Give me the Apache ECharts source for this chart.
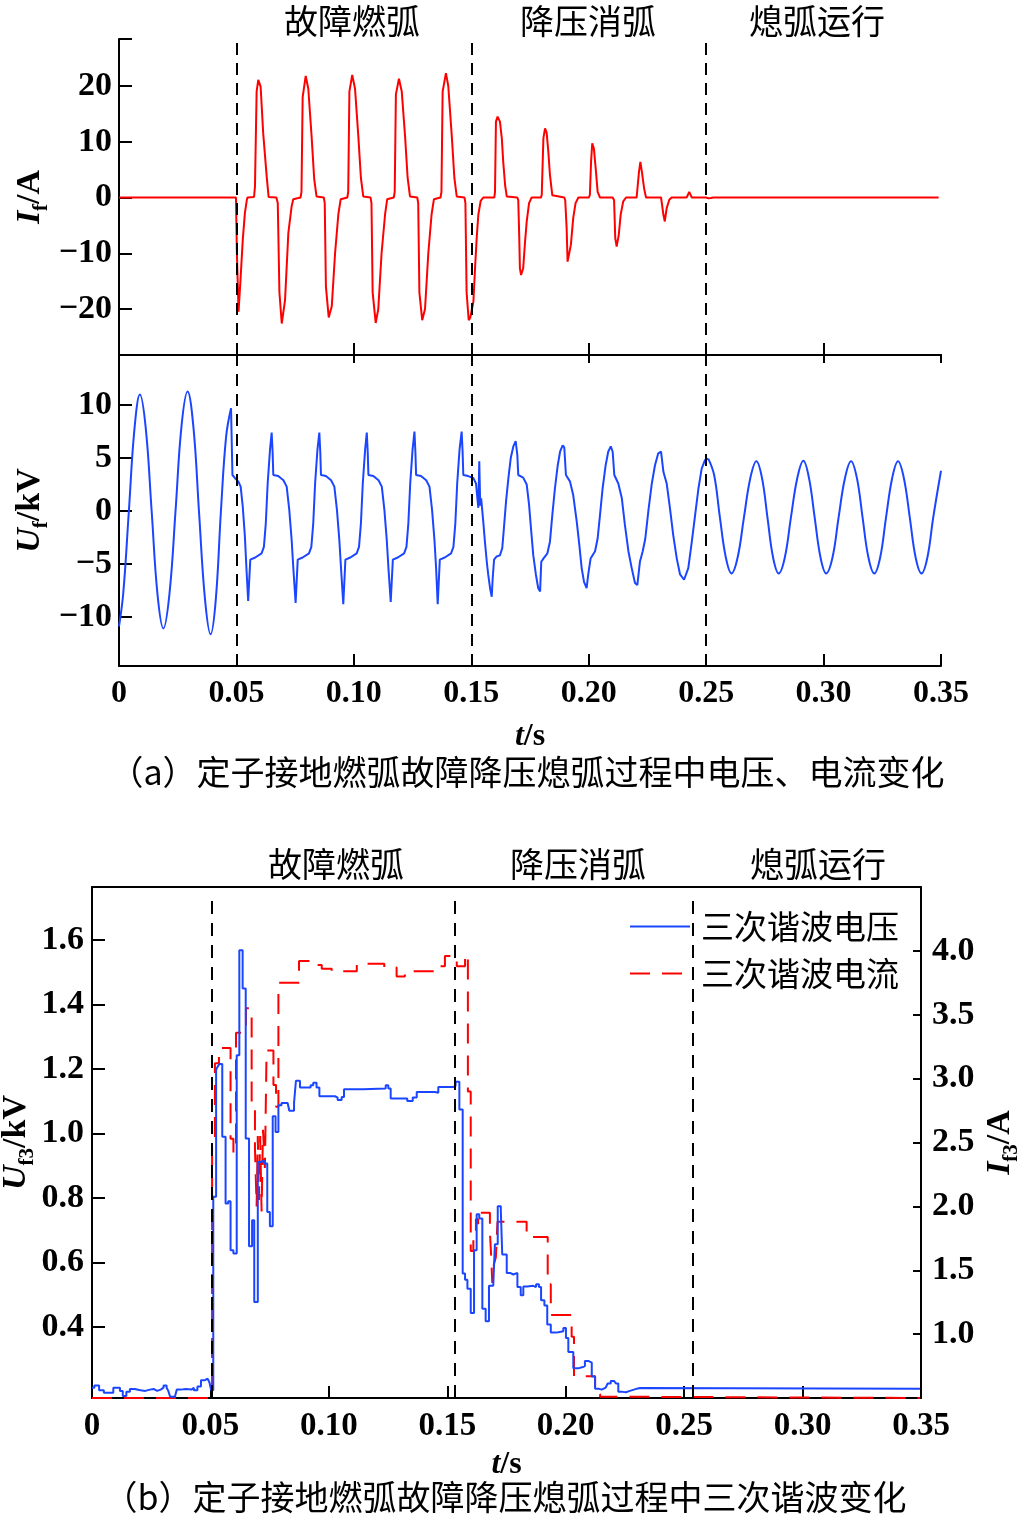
<!DOCTYPE html>
<html><head><meta charset="utf-8">
<script src="https://cdn.jsdelivr.net/npm/echarts@6/dist/echarts.min.js"></script>
<style>html,body{margin:0;padding:0;background:#fff}#c{width:1020px;height:1515px}</style>
</head><body><div id="c"></div>
<script>
// ---------------- data ----------------
const phaseNames = ['故障燃弧', '降压消弧', '熄弧运行'];
const phaseBoundsA = [0.05, 0.15, 0.25];
const phaseBoundsB = [0.0507, 0.1533, 0.2537];
const tickIf = [-20, -10, 0, 10, 20];
const tickUf = [-10, -5, 0, 5, 10];
const tickU3 = [0.4, 0.6, 0.8, 1.0, 1.2, 1.4, 1.6];
const tickI3 = [1.0, 1.5, 2.0, 2.5, 3.0, 3.5, 4.0];
const tickT = [0, 0.05, 0.10, 0.15, 0.20, 0.25, 0.30];

// fault current I_f (A)
const currentIf = [
[0,0],[0.0498,0],
[0.0502,-10],[0.0509,-20.5],[0.0512,-20.7],[0.0517,-15],[0.0527,-7.6],[0.0536,-2.8],[0.0544,-0.5],[0.0547,0],[0.0575,0.1],
[0.0579,2],[0.0586,19],[0.0593,21.1],[0.0603,19.9],[0.0614,11.5],[0.0629,3.7],[0.0637,0.1],[0.0670,0],
[0.0676,-1],[0.0683,-17],[0.0693,-22.6],[0.0707,-18.4],[0.0721,-6.4],[0.0735,-1.6],[0.0742,-0.3],[0.0773,0],
[0.0777,1],[0.0782,18],[0.0795,21.8],[0.0806,19.5],[0.0820,11],[0.0831,3.4],[0.0841,0.2],[0.0872,0],
[0.0876,-1],[0.0881,-16],[0.0893,-21.5],[0.0906,-19.5],[0.0920,-10],[0.0934,-3],[0.0944,-0.3],[0.0972,0],
[0.0976,1],[0.0981,19],[0.0993,22],[0.1005,19.5],[0.1019,11],[0.1030,3.5],[0.1040,0.2],[0.1071,0],
[0.1075,-1],[0.1080,-17],[0.1093,-22.5],[0.1104,-20],[0.1118,-10],[0.1133,-3],[0.1142,-0.3],[0.1170,0],
[0.1174,1],[0.1179,18.5],[0.1192,21.3],[0.1204,19],[0.1218,11],[0.1229,3.5],[0.1239,0.2],[0.1270,0],
[0.1274,-1],[0.1279,-17],[0.1291,-22],[0.1303,-20],[0.1317,-10],[0.1331,-3],[0.1341,-0.3],[0.1369,0],
[0.1373,1],[0.1378,19],[0.1392,22.3],[0.1402,20],[0.1417,11],[0.1428,3.5],[0.1438,0.2],[0.1471,0],
[0.1475,-1],[0.1480,-17],[0.1489,-22],[0.1496,-21.5],[0.1509,-18.7],[0.1516,-12.7],[0.1523,-7.3],[0.1530,-3.1],[0.1540,-0.6],[0.1551,0],[0.1598,0],
[0.1601,1],[0.1605,13.6],[0.1612,14.5],[0.1622,13.6],[0.1630,10.6],[0.1636,6.4],[0.1644,2.2],[0.1651,0.2],[0.1696,0],
[0.1700,-0.5],[0.1704,-6.7],[0.1707,-12.7],[0.1712,-13.9],[0.1721,-12.7],[0.1729,-7.9],[0.1736,-4.3],[0.1746,-1],[0.1757,0],[0.1797,0],
[0.1800,0.5],[0.1807,10.6],[0.1814,12.4],[0.1821,11.6],[0.1828,8.2],[0.1835,4.0],[0.1845,0.4],[0.1896,0],
[0.1900,-0.5],[0.1906,-5.5],[0.1910,-11.5],[0.1916,-11.5],[0.1924,-8.5],[0.1934,-3.7],[0.1944,-1],[0.1956,0],[0.2001,0],
[0.2005,0.5],[0.2010,6.4],[0.2015,9.7],[0.2022,8.8],[0.2031,4.6],[0.2038,1.0],[0.2048,0],[0.2102,0],
[0.2108,-0.5],[0.2113,-7.3],[0.2119,-8.8],[0.2128,-6.7],[0.2136,-3.1],[0.2147,-0.7],[0.2159,0],[0.2204,0],
[0.2208,0.3],[0.2214,4.6],[0.2220,6.4],[0.2227,4.4],[0.2236,1.6],[0.2244,0],[0.2308,0],
[0.2312,-0.3],[0.2318,-3.1],[0.2324,-4.3],[0.2332,-1.9],[0.2343,-0.4],[0.2353,0],[0.2417,0],
[0.2428,1.0],[0.2439,0],[0.2500,0],[0.2510,-0.15],[0.2520,-0.1],[0.2530,0],[0.3490,0]
];

// fault voltage U_f (kV): pre-fault sine, arcing part, post-extinction sine
const voltageSine1 = [
[0,-10.9],[0.0018,-7.8],[0.0042,0],[0.0066,7.8],[0.0089,11.0],[0.0114,7.8],[0.0139,0],[0.0164,-7.9],
[0.0189,-11.1],[0.0215,-7.8],[0.0241,0.1],[0.0266,8.0],[0.0292,11.3],[0.0317,7.9],[0.0341,-0.2],[0.0366,-8.3],
[0.0390,-11.65],[0.0412,-8.4],[0.0434,0],[0.0456,7.0],[0.0477,9.7]
];
const voltageArc = [
[0.0477,9.7],[0.0483,3.4],[0.0494,3.1],[0.0508,2.8],[0.0518,2.3],[0.0527,0.4],[0.0536,-2.4],[0.0543,-5.6],
[0.0550,-8.5],[0.0559,-4.6],[0.0580,-4.4],[0.0607,-4.0],[0.0617,-3.4],[0.0625,-1.2],[0.0633,2.6],[0.0643,5.8],[0.0650,7.4],[0.0654,5.6],[0.0657,3.4],[0.0678,3.3],[0.0700,2.9],[0.0714,2.3],[0.0725,0.1],[0.0735,-2.7],[0.0742,-5.3],
[0.0752,-8.7],[0.0761,-4.6],[0.0782,-4.4],[0.0809,-4.0],[0.0819,-3.4],[0.0827,-1.2],[0.0835,2.6],[0.0845,5.8],[0.0853,7.4],[0.0857,5.6],[0.0860,3.4],[0.0881,3.3],[0.0903,2.9],[0.0917,2.3],[0.0928,0.1],[0.0938,-2.7],[0.0945,-5.3],
[0.0955,-8.8],[0.0964,-4.6],[0.0985,-4.4],[0.1012,-4.0],[0.1022,-3.4],[0.1030,-1.2],[0.1038,2.6],[0.1048,5.8],[0.1055,7.4],[0.1059,5.6],[0.1062,3.4],[0.1083,3.3],[0.1105,2.9],[0.1119,2.3],[0.1130,0.1],[0.1140,-2.7],[0.1147,-5.3],
[0.1157,-8.6],[0.1166,-4.6],[0.1187,-4.4],[0.1214,-4.0],[0.1224,-3.4],[0.1232,-1.2],[0.1240,2.6],[0.1250,5.8],[0.1258,7.5],[0.1262,5.6],[0.1265,3.4],[0.1286,3.3],[0.1308,2.9],[0.1322,2.3],[0.1333,0.1],[0.1343,-2.7],[0.1350,-5.3],
[0.1357,-8.8],[0.1366,-4.6],[0.1387,-4.4],[0.1414,-4.0],[0.1424,-3.4],[0.1432,-1.2],[0.1440,2.6],[0.1450,5.8],[0.1459,7.5],[0.1463,5.6],[0.1466,3.4],[0.1487,3.3],[0.1509,3.1],[0.1520,2.6],[0.1530,0.3],[0.1534,4.7],[0.1538,0.5],[0.1542,1.2],[0.1551,-1.0],[0.1558,-2.9],[0.1566,-4.8],[0.1572,-6.0],[0.1580,-7.3],[0.1587,-8.1],[0.1591,-6.4],[0.1597,-4.6],
[0.1608,-4.3],[0.1622,-4.2],[0.1632,-3.5],[0.1639,-1.6],[0.1648,0.9],[0.1658,3.1],[0.1668,5.0],[0.1679,6.1],[0.1689,6.6],[0.1696,5.3],[0.1700,3.4],[0.1721,3.15],[0.1736,2.5],[0.1746,0.6],[0.1754,-1.6],[0.1764,-4.2],[0.1775,-6.0],[0.1785,-7.3],[0.1793,-7.6],[0.1798,-4.8],[0.1807,-4.5],[0.1824,-4.0],[0.1835,-2.9],[0.1845,-0.4],[0.1856,2.1],[0.1868,4.3],[0.1878,5.6],[0.1889,6.2],[0.1896,6.0],[0.1903,3.4],[0.1920,2.8],[0.1934,1.5],[0.1949,-1.0],[0.1960,-3.2],[0.1970,-5.4],[0.1980,-6.7],[0.1991,-7.3],[0.1998,-6.0],[0.2008,-4.5],[0.2027,-3.8],[0.2038,-2.6],[0.2048,-0.4],[0.2059,2.1],[0.2072,4.3],[0.2083,5.6],[0.2094,6.1],[0.2102,5.6],[0.2109,3.4],[0.2126,2.6],[0.2141,1.2],[0.2154,-1.3],[0.2169,-3.8],[0.2183,-5.4],[0.2197,-6.8],[0.2207,-7.0],[0.2218,-4.8],[0.2230,-3.8],[0.2241,-2.6],[0.2254,0],[0.2268,2.5],[0.2282,4.3],[0.2296,5.45],[0.2308,5.6],[0.2318,3.7],[0.2332,2.6],[0.2346,0.25],[0.2360,-2.3],[0.2375,-4.5],[0.2389,-6.0],[0.2406,-6.5],[0.2424,-5.4],[0.2439,-2.9],[0.2453,-0.4],[0.2467,2.1],[0.2481,4.0],[0.2495,4.8],[0.2509,4.95]
];
const voltageSine2 = [
[0.2509,4.95],[0.2534,3.4],[0.2558,-0.5],[0.2583,-4.3],[0.2608,-5.9],[0.2634,-4.4],[0.2661,-0.6],[0.2688,3.1],
[0.2714,4.7],[0.2738,3.1],[0.2761,-0.6],[0.2785,-4.4],[0.2809,-5.9],[0.2835,-4.4],[0.2861,-0.6],[0.2888,3.1],
[0.2914,4.75],[0.2938,3.1],[0.2962,-0.6],[0.2987,-4.4],[0.3011,-5.9],[0.3038,-4.4],[0.3064,-0.6],[0.3091,3.1],
[0.3117,4.7],[0.3142,3.1],[0.3166,-0.6],[0.3191,-4.4],[0.3216,-5.9],[0.3241,-4.4],[0.3266,-0.6],[0.3292,3.1],
[0.3317,4.7],[0.3342,3.1],[0.3367,-0.6],[0.3392,-4.4],[0.3417,-5.9],[0.3442,-4.4],[0.3467,-0.6],[0.3500,3.8]
];

// third harmonic voltage U_f3 (kV), value holds from t until the next point
const harmonicU3 = [
[0,0.212],[0.0010,0.219],[0.0030,0.204],[0.0050,0.196],[0.0090,0.212],[0.0118,0.202],[0.0130,0.186],[0.0145,0.199],
[0.0160,0.208],[0.0180,0.204],[0.0205,0.202],[0.0225,0.206],[0.0245,0.208],[0.0260,0.202],[0.0275,0.206],[0.0290,0.202],
[0.0297,0.212],[0.0302,0.219],[0.0315,0.212],[0.0322,0.202],[0.0330,0.184],[0.0350,0.181],[0.0358,0.206],[0.0375,0.208],
[0.0395,0.206],[0.0420,0.212],[0.0430,0.204],[0.0445,0.216],[0.0460,0.235],[0.0475,0.240],[0.0488,0.238],[0.0496,0.228],
[0.0503,0.204],[0.0512,0.804],[0.0524,1.199],[0.0530,1.207],[0.0538,1.216],[0.0550,0.990],[0.0564,0.783],[0.0575,0.790],
[0.0585,0.638],[0.0597,0.628],[0.0611,1.243],[0.0622,1.569],[0.0636,1.450],[0.0649,0.985],[0.0663,0.651],[0.0676,0.731],
[0.0685,0.478],[0.0700,0.912],[0.0712,0.917],[0.0726,0.907],[0.0740,0.757],[0.0751,0.713],[0.0763,1.054],[0.0775,1.005],
[0.0787,1.088],[0.0800,1.095],[0.0826,1.092],[0.0833,1.071],[0.0853,1.095],[0.0861,1.164],[0.0878,1.143],[0.0923,1.150],
[0.0934,1.158],[0.0948,1.143],[0.0960,1.116],[0.1026,1.112],[0.1037,1.104],[0.1054,1.114],[0.1064,1.138],[0.1145,1.140],
[0.1240,1.150],[0.1251,1.140],[0.1261,1.109],[0.1321,1.109],[0.1331,1.101],[0.1354,1.112],[0.1371,1.129],[0.1448,1.127],
[0.1462,1.145],[0.1526,1.148],[0.1535,1.161],[0.1551,1.075],[0.1565,0.566],[0.1575,0.547],[0.1585,0.519],[0.1599,0.444],
[0.1613,0.638],[0.1624,0.750],[0.1635,0.737],[0.1648,0.457],[0.1662,0.418],[0.1676,0.528],[0.1694,0.533],[0.1701,0.657],
[0.1713,0.775],[0.1726,0.762],[0.1732,0.625],[0.1751,0.568],[0.1765,0.563],[0.1779,0.568],[0.1796,0.524],[0.1810,0.499],
[0.1821,0.526],[0.1838,0.528],[0.1863,0.524],[0.1875,0.533],[0.1887,0.524],[0.1896,0.483],[0.1910,0.467],[0.1922,0.408],
[0.1937,0.383],[0.1955,0.384],[0.1969,0.387],[0.1990,0.397],[0.2001,0.366],[0.2011,0.323],[0.2032,0.272],[0.2053,0.276],
[0.2072,0.279],[0.2081,0.295],[0.2095,0.290],[0.2110,0.247],[0.2124,0.209],[0.2138,0.206],[0.2152,0.212],[0.2169,0.214],
[0.2177,0.225],[0.2190,0.233],[0.2204,0.230],[0.2212,0.225],[0.2222,0.199],[0.2240,0.198],[0.2254,0.202],[0.2271,0.206],
[0.2288,0.209],[0.2300,0.211],[0.2314,0.209],[0.3496,0.209]
];
// third harmonic current I_f3 (A)
const harmonicI3 = [
[0,0.5],[0.0507,2.47],[0.0519,3.12],[0.0536,3.24],[0.0585,2.53],[0.0597,2.42],[0.0608,3.36],[0.0650,3.55],
[0.0674,2.81],[0.0688,2.45],[0.0695,2.0],[0.0700,2.55],[0.0705,2.05],[0.0710,2.55],[0.0716,1.96],[0.0722,2.6],
[0.0730,2.3],[0.0737,3.22],[0.0766,2.95],[0.0777,2.78],[0.0787,3.75],[0.0874,3.92],[0.0920,3.89],[0.0970,3.86],
[0.1012,3.84],[0.1118,3.9],[0.1234,3.87],[0.1286,3.8],[0.1321,3.84],[0.1462,3.88],[0.1490,3.96],[0.1540,3.88],
[0.1575,3.97],[0.1587,2.9],[0.1599,1.65],[0.1610,1.78],[0.1621,1.90],[0.1630,1.86],[0.1635,1.95],[0.1680,1.80],
[0.1685,1.62],[0.1690,1.40],[0.1697,1.55],[0.1705,1.60],[0.1712,1.88],[0.1835,1.76],[0.1924,1.39],[0.1937,1.15],
[0.2025,0.98],[0.2035,0.67],[0.2124,0.58],[0.2135,0.53],[0.2145,0.51],[0.2230,0.5],[0.3496,0.5]
];

// ---------------- styling ----------------
const NUM = 'Liberation Serif';
const CJK = '"Noto Sans CJK SC"';
const BLUE = '#1b46ff', RED = '#ff0000';
const fmtT = v => (Math.abs(v) < 1e-9 ? '0' : v.toFixed(2));
const fmtMinus = v => (v < 0 ? '\u2212' + Math.abs(v) : String(v));
const lineW = {color: '#000', width: 2};
const numLabel = (extra) => Object.assign({color: '#000', fontFamily: NUM, fontWeight: 'bold', fontSize: 32}, extra);

const nameRich = (sz) => ({
  i: {fontFamily: NUM, fontStyle: 'italic', fontWeight: 'bold', fontSize: sz, lineHeight: sz + 10, color: '#000'},
  s: {fontFamily: NUM, fontWeight: 'bold', fontSize: Math.round(sz * 0.62), lineHeight: Math.round(sz * 0.62), verticalAlign: 'bottom', color: '#000'},
  n: {fontFamily: NUM, fontWeight: 'bold', fontSize: sz, lineHeight: sz + 10, color: '#000'}
});

const dashMark = (bounds) => ({
  silent: true, symbol: ['none', 'none'], label: {show: false}, animation: false,
  lineStyle: {color: '#000', width: 2, type: [12, 8]},
  emphasis: {disabled: true},
  data: bounds.map(b => ({xAxis: b}))
});
const dashMarkB = {
  silent: true, symbol: ['none', 'none'], label: {show: false}, animation: false,
  lineStyle: {color: '#000', width: 2, type: [13, 9]},
  emphasis: {disabled: true},
  data: phaseBoundsB.map(b => [{coord: [b, 0.18]}, {coord: [b, 1.74]}])
};

const xBase = {
  type: 'value', min: 0, max: 0.35, interval: 0.05,
  axisLine: {onZero: false, lineStyle: lineW}, splitLine: {show: false},
  axisTick: {inside: true, length: 12, lineStyle: lineW},
  axisLabel: {show: false}
};
const gridBase = {containLabel: false, outerBoundsMode: 'none'};

const chart = echarts.init(document.getElementById('c'), null, {renderer: 'canvas'});
const option = {
  animation: false,
  backgroundColor: '#fff',
  grid: [
    Object.assign({left: 119, right: 79, top: 39, height: 316}, gridBase),
    Object.assign({left: 119, right: 79, top: 355, height: 311}, gridBase),
    Object.assign({left: 92, right: 99, top: 887, height: 511}, gridBase)
  ],
  legend: {
    data: ['三次谐波电压', '三次谐波电流'],
    orient: 'vertical', left: 624, top: 905, itemWidth: 60, itemHeight: 6, itemGap: 14,
    selectedMode: false,
    itemStyle: {opacity: 0},
    textStyle: {fontFamily: CJK, fontSize: 33, color: '#000', padding: [0, 0, 0, 6]}
  },
  xAxis: [
    Object.assign({}, xBase, {gridIndex: 0, position: 'bottom',
      axisTick: {inside: true, length: 12, lineStyle: lineW, customValues: tickT}}),
    Object.assign({}, xBase, {gridIndex: 1, position: 'top', axisTick: {inside: true, length: 8, lineStyle: lineW}}),
    Object.assign({}, xBase, {gridIndex: 1, position: 'bottom',
      axisLabel: numLabel({formatter: fmtT, margin: 12}),
      name: '{i|t}{n|/s}', nameLocation: 'middle', nameGap: 50, nameMoveOverlap: false, nameTextStyle: {rich: nameRich(32)}}),
    Object.assign({}, xBase, {gridIndex: 2, position: 'bottom',
      axisLabel: numLabel({formatter: fmtT, margin: 12, fontSize: 33}),
      name: '{i|t}{n|/s}', nameLocation: 'middle', nameGap: 46, nameMoveOverlap: false, nameTextStyle: {rich: nameRich(32)}}),
    Object.assign({}, xBase, {gridIndex: 2, position: 'top', axisTick: {show: false}})
  ],
  yAxis: [
    {gridIndex: 0, type: 'value', min: -28.25, max: 28.43, position: 'left',
     axisLine: {onZero: false, lineStyle: lineW}, splitLine: {show: false},
     axisTick: {inside: true, length: 13, lineStyle: lineW, customValues: tickIf.concat([28.43])},
     axisLabel: numLabel({customValues: tickIf, formatter: fmtMinus, margin: 7, fontSize: 34}),
     name: '{i|I}{s|f}{n|/A}', nameLocation: 'middle', nameRotate: 90, nameGap: 67, nameMoveOverlap: false,
     nameTextStyle: {rich: nameRich(34)}},
    {gridIndex: 1, type: 'value', min: -14.65, max: 14.74, position: 'left',
     axisLine: {onZero: false, lineStyle: lineW}, splitLine: {show: false},
     axisTick: {inside: true, length: 13, lineStyle: lineW, customValues: tickUf},
     axisLabel: numLabel({customValues: tickUf, formatter: fmtMinus, margin: 7, fontSize: 34}),
     name: '{i|U}{s|f}{n|/kV}', nameLocation: 'middle', nameRotate: 90, nameGap: 67, nameMoveOverlap: false,
     nameTextStyle: {rich: nameRich(34)}},
    {gridIndex: 2, type: 'value', min: 0.18, max: 1.765, position: 'left',
     axisLine: {onZero: false, lineStyle: lineW}, splitLine: {show: false},
     axisTick: {inside: true, length: 13, lineStyle: lineW, customValues: tickU3},
     axisLabel: numLabel({customValues: tickU3, formatter: v => v.toFixed(1), margin: 8, fontSize: 34}),
     name: '{i|U}{s|f3}{n|/kV}', nameLocation: 'middle', nameRotate: 90, nameGap: 54, nameMoveOverlap: false,
     nameTextStyle: {rich: nameRich(34)}},
    {gridIndex: 2, type: 'value', min: 0.5, max: 4.5, position: 'right',
     axisLine: {onZero: false, lineStyle: lineW}, splitLine: {show: false},
     axisTick: {inside: true, length: 8, lineStyle: lineW, customValues: tickI3},
     axisLabel: numLabel({customValues: tickI3, formatter: v => v.toFixed(1), margin: 11, fontSize: 34}),
     name: '{i|I}{s|f3}{n|/A}', nameLocation: 'middle', nameRotate: 90, nameGap: 57, nameMoveOverlap: false,
     nameTextStyle: {rich: nameRich(34)}}
  ],
  series: [
    {name: 'If', type: 'line', xAxisIndex: 0, yAxisIndex: 0, data: currentIf, symbol: 'none',
     lineStyle: {color: RED, width: 2}, itemStyle: {color: RED}, markLine: dashMark(phaseBoundsA), silent: true},
    {name: 'Uf1', type: 'line', xAxisIndex: 2, yAxisIndex: 1, data: voltageSine1, symbol: 'none', smooth: 0.4,
     lineStyle: {color: BLUE, width: 2}, itemStyle: {color: BLUE}, markLine: dashMark(phaseBoundsA), silent: true},
    {name: 'Uf2', type: 'line', xAxisIndex: 2, yAxisIndex: 1, data: voltageArc, symbol: 'none',
     lineStyle: {color: BLUE, width: 2}, itemStyle: {color: BLUE}, silent: true},
    {name: 'Uf3', type: 'line', xAxisIndex: 2, yAxisIndex: 1, data: voltageSine2, symbol: 'none', smooth: 0.4,
     lineStyle: {color: BLUE, width: 2}, itemStyle: {color: BLUE}, silent: true},
    {name: '三次谐波电流', type: 'line', xAxisIndex: 3, yAxisIndex: 3, data: harmonicI3, symbol: 'none', step: 'end',
     lineStyle: {color: RED, width: 2, type: [20, 12]}, itemStyle: {color: RED}, silent: true},
    {name: '三次谐波电压', type: 'line', xAxisIndex: 3, yAxisIndex: 2, data: harmonicU3, symbol: 'none', step: 'end',
     lineStyle: {color: BLUE, width: 2}, itemStyle: {color: BLUE}, markLine: dashMarkB, silent: true}
  ],
  graphic: [
    ...phaseNames.map((t, k) => ({type: 'text', x: [352, 588, 817][k], y: 21,
      style: {text: t, font: '34px ' + CJK, fill: '#000', align: 'center', verticalAlign: 'middle', textAlign: 'center', textVerticalAlign: 'middle'}})),
    ...phaseNames.map((t, k) => ({type: 'text', x: [336, 578, 818][k], y: 864,
      style: {text: t, font: '34px ' + CJK, fill: '#000', align: 'center', verticalAlign: 'middle', textAlign: 'center', textVerticalAlign: 'middle'}})),
    {type: 'text', x: 527, y: 772, style: {text: '（a）定子接地燃弧故障降压熄弧过程中电压、电流变化', font: '34px ' + CJK, fill: '#000', align: 'center', verticalAlign: 'middle', textAlign: 'center', textVerticalAlign: 'middle'}},
    {type: 'text', x: 505, y: 1497, style: {text: '（b）定子接地燃弧故障降压熄弧过程中三次谐波变化', font: '34px ' + CJK, fill: '#000', align: 'center', verticalAlign: 'middle', textAlign: 'center', textVerticalAlign: 'middle'}}
  ]
};
chart.setOption(option);
</script></body></html>
